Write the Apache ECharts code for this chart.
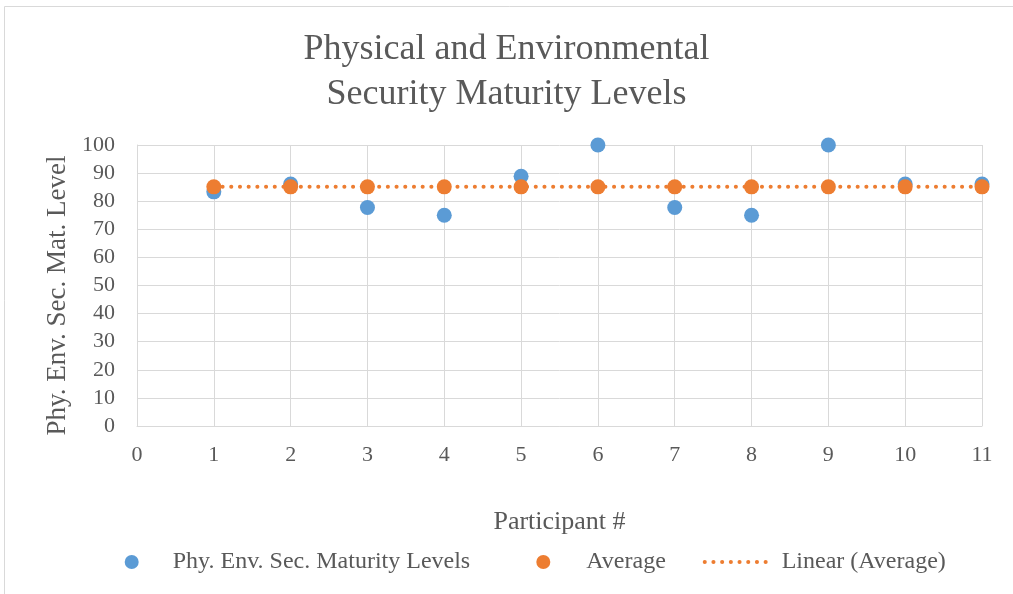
<!DOCTYPE html>
<html><head><meta charset="utf-8">
<script src="https://cdn.jsdelivr.net/npm/echarts@6/dist/echarts.min.js"></script>
<style>html,body{margin:0;padding:0;background:#fff}#c{width:1013px;height:594px}</style>
</head><body><div id="c"></div>
<script>
var participants = [1,2,3,4,5,6,7,8,9,10,11];
var maturity = [83.33,86.11,77.78,75,88.89,100,77.78,75,100,86.11,86.11];
var average = [85.1,85.1,85.1,85.1,85.1,85.1,85.1,85.1,85.1,85.1,85.1];
var trendX = [1,11];
var trendY = [85.1,85.1];
var yTicks = [0,10,20,30,40,50,60,70,80,90,100];
var xTicks = [0,1,2,3,4,5,6,7,8,9,10,11];

var font = 'Liberation Serif';
var grey = '#595959';
var chart = echarts.init(document.getElementById('c'));
var legText = {fontFamily: font, fontSize: 24, color: grey, lineHeight: 24};
chart.setOption({
  animation: false,
  graphic: [{type:'rect', shape:{x:4.5,y:6.5,width:1100,height:1000}, style:{fill:'none', stroke:'#d9d9d9', lineWidth:1}}],
  title: {text: 'Physical and Environmental\nSecurity Maturity Levels', left: 'center', top: 22,
    textStyle: {fontFamily: font, fontSize: 36, fontWeight: 'normal', color: grey, lineHeight: 45}},
  grid: {left: 137, right: 31, top: 145, bottom: 168},
  xAxis: {type: 'value', min: 0, max: 11, interval: 1,
    name: 'Participant #', nameLocation: 'middle', nameGap: 83,
    nameTextStyle: {fontFamily: font, fontSize: 26, color: grey},
    axisLine: {lineStyle: {color: '#d9d9d9'}}, axisTick: {show: false},
    axisLabel: {fontFamily: font, fontSize: 22, color: grey, margin: 18,
      formatter: function(v){ return xTicks.indexOf(v) >= 0 ? String(v) : ''; }},
    splitLine: {show: true, lineStyle: {color: '#d9d9d9'}}},
  yAxis: {type: 'value', min: 0, max: 100, interval: 10,
    name: 'Phy. Env. Sec. Mat. Level', nameLocation: 'middle', nameGap: 60, nameRotate: 90,
    nameTextStyle: {fontFamily: font, fontSize: 27, color: grey, padding: [0, 20, 0, 0]},
    axisLine: {show: true, lineStyle: {color: '#d9d9d9'}}, axisTick: {show: false},
    axisLabel: {fontFamily: font, fontSize: 22, color: grey, margin: 22,
      formatter: function(v){ return yTicks.indexOf(v) >= 0 ? String(v) : ''; }},
    splitLine: {show: true, lineStyle: {color: '#d9d9d9'}}},
  legend: [
    {data: [{name: 'Phy. Env. Sec. Maturity Levels', icon: 'circle'}], left: 124.7, top: 550, padding: 0, itemWidth: 14, itemHeight: 14,
      textStyle: Object.assign({padding: [0,0,0,29]}, legText)},
    {data: [{name: 'Average', icon: 'circle'}], left: 536.3, top: 550, padding: 0, itemWidth: 14, itemHeight: 14,
      textStyle: Object.assign({padding: [0,0,0,31]}, legText)},
    {data: ['Linear (Average)'], left: 702.7, top: 550, padding: 0, itemWidth: 64, itemHeight: 14,
      itemStyle: {opacity: 0},
      lineStyle: {color: '#ed7d31', width: 4, type: [0.1, 8.6], cap: 'round'},
      textStyle: Object.assign({padding: [0,0,0,8]}, legText)}
  ],
  series: [
    {name: 'Phy. Env. Sec. Maturity Levels', type: 'scatter', symbol: 'circle', symbolSize: 15, z: 2,
      itemStyle: {color: '#5b9bd5', opacity: 1},
      data: participants.map(function(x,i){ return [x, maturity[i]]; })},
    {name: 'Linear (Average)', type: 'line', symbol: 'none', z: 3,
      lineStyle: {color: '#ed7d31', width: 4, type: [0.1, 8.6], cap: 'round'},
      itemStyle: {color: '#ed7d31'},
      data: trendX.map(function(x,i){ return [x, trendY[i]]; })},
    {name: 'Average', type: 'scatter', symbol: 'circle', symbolSize: 15, z: 4,
      itemStyle: {color: '#ed7d31', opacity: 1},
      data: participants.map(function(x,i){ return [x, average[i]]; })}
  ]
});
</script></body></html>
